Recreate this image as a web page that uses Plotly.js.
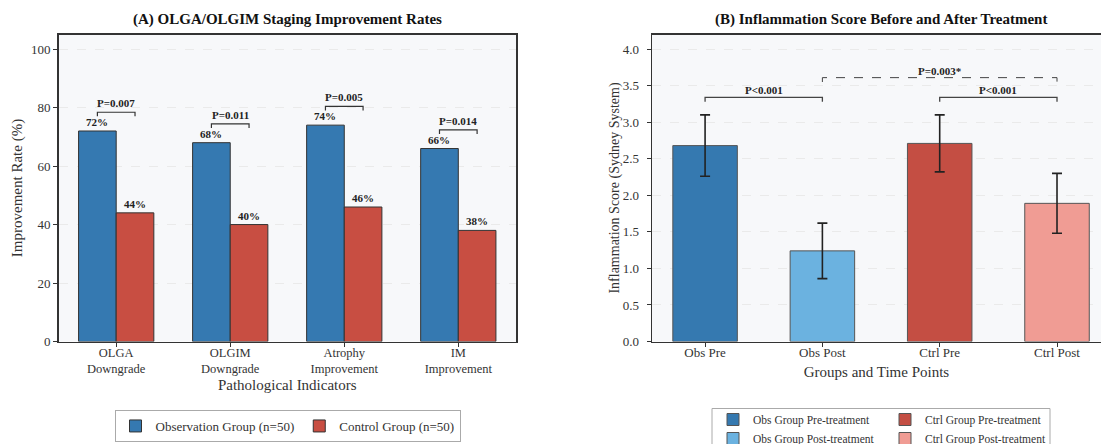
<!DOCTYPE html>
<html>
<head>
<meta charset="utf-8">
<script src="https://cdn.plot.ly/plotly-3.0.1.min.js"></script>
<style>html,body{margin:0;padding:0;background:#fff;} #chart{width:1101px;height:444px;}</style>
</head>
<body>
<div id="chart"></div>
<script>
// ---- Panel A data ----
const categories = ['OLGA<br>Downgrade', 'OLGIM<br>Downgrade', 'Atrophy<br>Improvement', 'IM<br>Improvement'];
const obsRates = [72, 68, 74, 66];
const ctrlRates = [44, 40, 46, 38];
const pValuesA = ['P=0.007', 'P=0.011', 'P=0.005', 'P=0.014'];
const seriesNamesA = ['Observation Group (n=50)', 'Control Group (n=50)'];

// ---- Panel B data ----
const groups = ['Obs Pre', 'Obs Post', 'Ctrl Pre', 'Ctrl Post'];
const scores = [2.68, 1.24, 2.71, 1.89];
const sds = [0.42, 0.38, 0.39, 0.41];
const legendNamesB = ['Obs Group Pre-treatment', 'Obs Group Post-treatment', 'Ctrl Group Pre-treatment', 'Ctrl Group Post-treatment'];
const comparisons = [[0, 1, 'P<0.001', 'solid'], [2, 3, 'P<0.001', 'solid'], [1, 3, 'P=0.003*', 'dash']];

// ---- styles ----
const FONT = 'Liberation Serif, Times New Roman, serif';
const colA = ['#3579b1', '#c84e42'];
const colB = ['#3579b0', '#6bb2e0', '#c44e43', '#f09c94'];
const edge = '#333333';
const W = 1101, H = 444;
const px = v => v / W, py = v => 1 - v / H;
const barW = 0.33;

const traces = [];
traces.push({
  type: 'bar', x: categories, y: obsRates, name: seriesNamesA[0],
  width: barW, offset: -barW, xaxis: 'x', yaxis: 'y', legend: 'legend',
  marker: {color: colA[0], line: {color: edge, width: 1}}, hoverinfo: 'y'
});
traces.push({
  type: 'bar', x: categories, y: ctrlRates, name: seriesNamesA[1],
  width: barW, offset: 0, xaxis: 'x', yaxis: 'y', legend: 'legend',
  marker: {color: colA[1], line: {color: edge, width: 1}}, hoverinfo: 'y'
});
groups.forEach((g, i) => {
  traces.push({
    type: 'bar', x: [g], y: [scores[i]], name: legendNamesB[i],
    width: 0.55, xaxis: 'x2', yaxis: 'y2', legend: i < 2 ? 'legend2' : 'legend3',
    marker: {color: colB[i], line: {color: '#555555', width: 1}},
    error_y: {type: 'data', array: [sds[i]], visible: true, color: '#222222', thickness: 1.6, width: 5}
  });
});

const annotations = [];
const shapes = [];
// Panel A value labels and brackets
categories.forEach((c, i) => {
  const xo = i - barW / 2, xc = i + barW / 2;
  annotations.push({xref: 'x', yref: 'y', x: xo, y: obsRates[i], text: '<b>' + obsRates[i] + '%</b>',
    showarrow: false, yanchor: 'bottom', yshift: 1, font: {family: FONT, size: 11, color: '#222'}});
  annotations.push({xref: 'x', yref: 'y', x: xc, y: ctrlRates[i], text: '<b>' + ctrlRates[i] + '%</b>',
    showarrow: false, yanchor: 'bottom', yshift: 1, font: {family: FONT, size: 11, color: '#222'}});
  const by = Math.max(obsRates[i], ctrlRates[i]) + 6.4;
  shapes.push({type: 'path', xref: 'x', yref: 'y',
    path: `M${xo},${by - 1.4} L${xo},${by} L${xc},${by} L${xc},${by - 1.4}`,
    line: {color: '#333', width: 1.2}});
  annotations.push({xref: 'x', yref: 'y', x: i, y: by, text: '<b>' + pValuesA[i] + '</b>',
    showarrow: false, yanchor: 'bottom', yshift: 1, font: {family: FONT, size: 11, color: '#222'}});
});
// Panel B brackets
const topB = Math.max(...scores.map((s, i) => s + sds[i]));
comparisons.forEach(([a, b, label, dash]) => {
  const by = dash === 'dash' ? topB + 0.51 : topB + 0.24;
  shapes.push({type: 'path', xref: 'x2', yref: 'y2',
    path: `M${a},${by - 0.06} L${a},${by} L${b},${by} L${b},${by - 0.06}`,
    line: {color: '#444', width: dash === 'dash' ? 1 : 1.3, dash: dash === 'dash' ? 'dash' : 'solid'}});
  annotations.push({xref: 'x2', yref: 'y2', x: (a + b) / 2, y: by, text: '<b>' + label + '</b>',
    showarrow: false, yanchor: 'bottom', yshift: -1, font: {family: FONT, size: 11, color: '#222'}});
});
// Subplot titles
annotations.push({xref: 'paper', yref: 'paper', x: px(287), y: py(20), text: '<b>(A) OLGA/OLGIM Staging Improvement Rates</b>',
  showarrow: false, xanchor: 'center', yanchor: 'middle', font: {family: FONT, size: 15, color: '#111'}});
annotations.push({xref: 'paper', yref: 'paper', x: px(881), y: py(20), text: '<b>(B) Inflammation Score Before and After Treatment</b>',
  showarrow: false, xanchor: 'center', yanchor: 'middle', font: {family: FONT, size: 15, color: '#111'}});
// Border around the two-column legend of panel B
shapes.push({type: 'rect', xref: 'paper', yref: 'paper', x0: px(712), x1: px(1050), y0: -0.1, y1: py(408.5),
  line: {color: '#aaaaaa', width: 1}, fillcolor: 'rgba(0,0,0,0)'});

const axisCommon = {
  showline: true, linecolor: '#333', linewidth: 1.5, mirror: true,
  ticks: 'outside', ticklen: 4, tickcolor: '#333', tickwidth: 1,
  tickfont: {family: FONT, size: 13, color: '#333'}, zeroline: false
};

const layout = {
  width: W, height: H,
  margin: {l: 0, r: 0, t: 0, b: 0, autoexpand: false},
  paper_bgcolor: '#ffffff', plot_bgcolor: '#f7f8fa',
  barmode: 'overlay',
  font: {family: FONT, color: '#333'},
  showlegend: true,
  xaxis: Object.assign({}, axisCommon, {
    domain: [px(58.5), px(516)], range: [-0.506, 3.506], type: 'category', showgrid: false,
    tickfont: {family: FONT, size: 12.5, color: '#333'}, ticklabelstandoff: -5,
    title: {text: 'Pathological Indicators', font: {family: FONT, size: 15, color: '#333'}, standoff: 4},
    anchor: 'y'
  }),
  yaxis: Object.assign({}, axisCommon, {
    domain: [py(341.5), py(34.5)], range: [0, 105], dtick: 20, tick0: 0,
    showgrid: true, gridcolor: '#e6e6e6', griddash: 'dash', gridwidth: 0.8,
    title: {text: 'Improvement Rate (%)', font: {family: FONT, size: 15, color: '#333'}, standoff: 4},
    anchor: 'x'
  }),
  xaxis2: Object.assign({}, axisCommon, {
    domain: [px(652), 1], range: [-0.4525, 3.375], type: 'category', showgrid: false,
    tickfont: {family: FONT, size: 13, color: '#333'}, ticklabelstandoff: -6,
    title: {text: 'Groups and Time Points', font: {family: FONT, size: 15, color: '#333'}, standoff: 8},
    anchor: 'y2'
  }),
  yaxis2: Object.assign({}, axisCommon, {
    mirror: false,
    domain: [py(341.5), py(34.5)], range: [0, 4.2], dtick: 0.5, tick0: 0, tickformat: '.1f',
    ticklabelstandoff: 5,
    showgrid: true, gridcolor: '#e6e6e6', griddash: 'dash', gridwidth: 0.8,
    title: {text: 'Inflammation Score (Sydney System)', font: {family: FONT, size: 14, color: '#333'}, standoff: 0},
    anchor: 'x2'
  }),
  legend: {
    orientation: 'h', x: px(287.5), xanchor: 'center', y: py(410), yanchor: 'top',
    bordercolor: '#aaaaaa', borderwidth: 1, bgcolor: '#ffffff',
    font: {family: FONT, size: 13, color: '#333'}
  },
  legend2: {
    orientation: 'v', x: px(713), xanchor: 'left', y: py(405), yanchor: 'top',
    borderwidth: 0, bgcolor: 'rgba(0,0,0,0)', tracegroupgap: 0,
    font: {family: FONT, size: 11.5, color: '#333'}
  },
  legend3: {
    orientation: 'v', x: px(885), xanchor: 'left', y: py(405), yanchor: 'top',
    borderwidth: 0, bgcolor: 'rgba(0,0,0,0)', tracegroupgap: 0,
    font: {family: FONT, size: 11.5, color: '#333'}
  },
  annotations: annotations,
  shapes: shapes
};

Plotly.newPlot('chart', traces, layout, {displayModeBar: false, staticPlot: true});
</script>
</body>
</html>
